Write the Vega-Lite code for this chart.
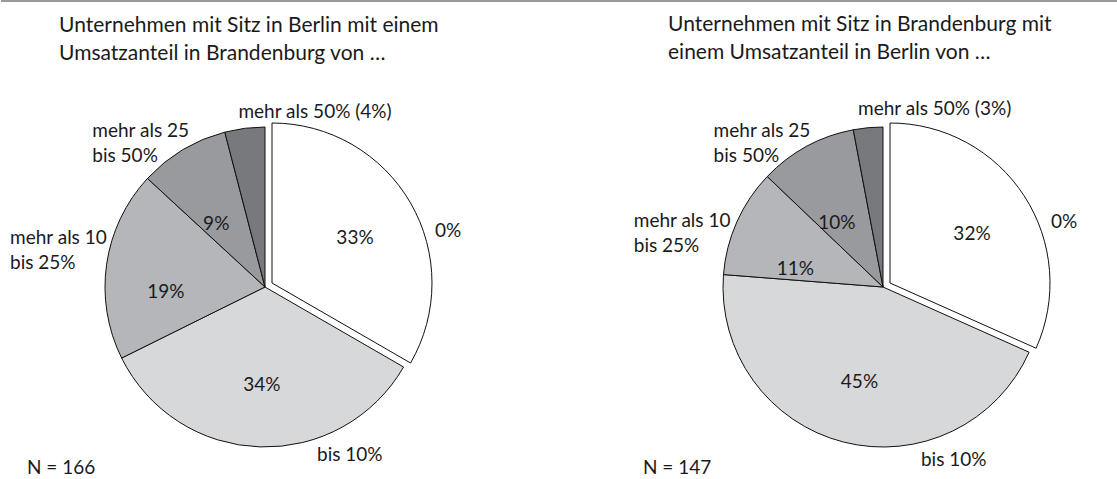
{
  "$schema": "https://vega.github.io/schema/vega-lite/v6.json",
  "padding": 0,
  "background": "white",
  "bounds": "flush",
  "spacing": 125,
  "config": {
    "view": {"stroke": null},
    "text": {"font": "Lato", "fontSize": 19, "color": "#1a1a1a", "baseline": "middle", "lineHeight": 25, "lineBreak": "\n"},
    "title": {"font": "Lato", "fontSize": 21, "fontWeight": "normal", "color": "#1a1a1a", "anchor": "start", "frame": "group", "lineHeight": 28},
    "arc": {"stroke": "#111111", "strokeWidth": 1}
  },
  "vconcat": [
    {
      "width": 1117,
      "height": 2,
      "data": {"values": [{}]},
      "mark": {"type": "rule", "color": "#999999", "strokeWidth": 2},
      "encoding": {"y": {"datum": 1, "type": "quantitative", "scale": {"domain": [0, 2]}, "axis": null}}
    },
    {
      "hconcat": [
        {
          "width": 528,
          "height": 320,
          "title": {"text": ["Unternehmen mit Sitz in Berlin mit einem", "Umsatzanteil in Brandenburg von …"], "dx": 58, "offset": 39},
          "data": {"values": [
            {"order": 1, "cat": "0%", "label": "0%", "share": 33, "pct": "33%", "n": "N = 166"},
            {"order": 2, "cat": "bis 10%", "label": "bis 10%", "share": 34, "pct": "34%", "n": "N = 166"},
            {"order": 3, "cat": "mehr als 10 bis 25%", "label": "mehr als 10\nbis 25%", "share": 19, "pct": "19%", "n": "N = 166"},
            {"order": 4, "cat": "mehr als 25 bis 50%", "label": "mehr als 25\nbis 50%", "share": 9, "pct": "9%", "n": "N = 166"},
            {"order": 5, "cat": "mehr als 50%", "label": "mehr als 50% (4%)", "share": 4, "pct": "4%", "n": "N = 166"}
          ]},
          "transform": [{"stack": "share", "groupby": [], "sort": [{"field": "order", "order": "ascending"}], "as": ["v0", "v1"], "offset": "normalize"}],
          "layer": [
            {
              "transform": [{"filter": "datum.order != 1"}],
              "mark": {"type": "arc"},
              "encoding": {
                "theta": {"field": "v0", "type": "quantitative", "stack": null, "scale": {"domain": [0, 1]}},
                "theta2": {"field": "v1"},
                "color": {"field": "cat", "type": "nominal", "legend": null, "scale": {"domain": ["0%", "bis 10%", "mehr als 10 bis 25%", "mehr als 25 bis 50%", "mehr als 50%"], "range": ["#ffffff", "#d7d8da", "#b4b6b9", "#989a9e", "#77797d"]}}
              }
            },
            {
              "transform": [{"filter": "datum.order == 1"}],
              "mark": {"type": "arc", "xOffset": 7, "yOffset": -4},
              "encoding": {
                "theta": {"field": "v0", "type": "quantitative", "stack": null},
                "theta2": {"field": "v1"},
                "color": {"field": "cat", "type": "nominal", "legend": null}
              }
            },
            {"transform": [{"filter": "datum.order == 1"}], "mark": {"type": "text", "radius": 102, "dx": 90, "dy": 53}, "encoding": {"theta": {"field": "v0", "type": "quantitative"}, "text": {"field": "pct", "type": "nominal"}}},
            {"transform": [{"filter": "datum.order == 2"}], "mark": {"type": "text", "radius": 98, "dx": -88, "dy": 49}, "encoding": {"theta": {"field": "v0", "type": "quantitative"}, "text": {"field": "pct", "type": "nominal"}}},
            {"transform": [{"filter": "datum.order == 3"}], "mark": {"type": "text", "radius": 95, "dx": -14, "dy": -37}, "encoding": {"theta": {"field": "v0", "type": "quantitative"}, "text": {"field": "pct", "type": "nominal"}}},
            {"transform": [{"filter": "datum.order == 4"}], "mark": {"type": "text", "radius": 80, "dx": 10, "dy": -9}, "encoding": {"theta": {"field": "v0", "type": "quantitative"}, "text": {"field": "pct", "type": "nominal"}}},
            {"transform": [{"filter": "datum.order == 1"}], "mark": {"type": "text", "radius": 191, "dx": 183, "dy": 135}, "encoding": {"theta": {"field": "v0", "type": "quantitative"}, "text": {"field": "label", "type": "nominal"}}},
            {"transform": [{"filter": "datum.order == 2"}], "mark": {"type": "text", "radius": 188, "dx": -78, "dy": 74}, "encoding": {"theta": {"field": "v0", "type": "quantitative"}, "text": {"field": "label", "type": "nominal"}}},
            {"transform": [{"filter": "datum.order == 3"}], "mark": {"type": "text", "radius": 260, "dx": -22, "dy": -164, "align": "left"}, "encoding": {"theta": {"field": "v0", "type": "quantitative"}, "text": {"field": "label", "type": "nominal"}}},
            {"transform": [{"filter": "datum.order == 4"}], "mark": {"type": "text", "radius": 231, "dx": -3, "dy": 1, "align": "left"}, "encoding": {"theta": {"field": "v0", "type": "quantitative"}, "text": {"field": "label", "type": "nominal"}}},
            {"transform": [{"filter": "datum.order == 5"}], "mark": {"type": "text", "radius": 183, "dx": 96, "dy": 2}, "encoding": {"theta": {"field": "v0", "type": "quantitative"}, "text": {"field": "label", "type": "nominal"}}},
            {"transform": [{"filter": "datum.order == 1"}], "mark": {"type": "text", "radius": 0, "dx": -238, "dy": 181, "align": "left"}, "encoding": {"theta": {"field": "v0", "type": "quantitative"}, "text": {"field": "n", "type": "nominal"}}}
          ]
        },
        {
          "width": 470,
          "height": 320,
          "title": {"text": ["Unternehmen mit Sitz in Brandenburg mit", "einem Umsatzanteil in Berlin von …"], "dx": 20, "offset": 37},
          "data": {"values": [
            {"order": 1, "cat": "0%", "label": "0%", "share": 32, "pct": "32%", "n": "N = 147"},
            {"order": 2, "cat": "bis 10%", "label": "bis 10%", "share": 45, "pct": "45%", "n": "N = 147"},
            {"order": 3, "cat": "mehr als 10 bis 25%", "label": "mehr als 10\nbis 25%", "share": 11, "pct": "11%", "n": "N = 147"},
            {"order": 4, "cat": "mehr als 25 bis 50%", "label": "mehr als 25\nbis 50%", "share": 10, "pct": "10%", "n": "N = 147"},
            {"order": 5, "cat": "mehr als 50%", "label": "mehr als 50% (3%)", "share": 3, "pct": "3%", "n": "N = 147"}
          ]},
          "transform": [{"stack": "share", "groupby": [], "sort": [{"field": "order", "order": "ascending"}], "as": ["v0", "v1"], "offset": "normalize"}],
          "layer": [
            {
              "transform": [{"filter": "datum.order != 1"}],
              "mark": {"type": "arc"},
              "encoding": {
                "theta": {"field": "v0", "type": "quantitative", "stack": null, "scale": {"domain": [0, 1]}},
                "theta2": {"field": "v1"},
                "color": {"field": "cat", "type": "nominal", "legend": null, "scale": {"domain": ["0%", "bis 10%", "mehr als 10 bis 25%", "mehr als 25 bis 50%", "mehr als 50%"], "range": ["#ffffff", "#d7d8da", "#b4b6b9", "#989a9e", "#77797d"]}}
              }
            },
            {
              "transform": [{"filter": "datum.order == 1"}],
              "mark": {"type": "arc", "xOffset": 7, "yOffset": -4},
              "encoding": {
                "theta": {"field": "v0", "type": "quantitative", "stack": null},
                "theta2": {"field": "v1"},
                "color": {"field": "cat", "type": "nominal", "legend": null}
              }
            },
            {"transform": [{"filter": "datum.order == 1"}], "mark": {"type": "text", "radius": 104, "dx": 89, "dy": 51}, "encoding": {"theta": {"field": "v0", "type": "quantitative"}, "text": {"field": "pct", "type": "nominal"}}},
            {"transform": [{"filter": "datum.order == 2"}], "mark": {"type": "text", "radius": 98, "dx": -113, "dy": 55}, "encoding": {"theta": {"field": "v0", "type": "quantitative"}, "text": {"field": "pct", "type": "nominal"}}},
            {"transform": [{"filter": "datum.order == 3"}], "mark": {"type": "text", "radius": 90, "dx": 2, "dy": -11}, "encoding": {"theta": {"field": "v0", "type": "quantitative"}, "text": {"field": "pct", "type": "nominal"}}},
            {"transform": [{"filter": "datum.order == 4"}], "mark": {"type": "text", "radius": 79, "dx": 11, "dy": -9}, "encoding": {"theta": {"field": "v0", "type": "quantitative"}, "text": {"field": "pct", "type": "nominal"}}},
            {"transform": [{"filter": "datum.order == 1"}], "mark": {"type": "text", "radius": 192, "dx": 181, "dy": 127}, "encoding": {"theta": {"field": "v0", "type": "quantitative"}, "text": {"field": "label", "type": "nominal"}}},
            {"transform": [{"filter": "datum.order == 2"}], "mark": {"type": "text", "radius": 187, "dx": -100, "dy": 97}, "encoding": {"theta": {"field": "v0", "type": "quantitative"}, "text": {"field": "label", "type": "nominal"}}},
            {"transform": [{"filter": "datum.order == 3"}], "mark": {"type": "text", "radius": 259, "dx": 9, "dy": -46, "align": "left"}, "encoding": {"theta": {"field": "v0", "type": "quantitative"}, "text": {"field": "label", "type": "nominal"}}},
            {"transform": [{"filter": "datum.order == 4"}], "mark": {"type": "text", "radius": 230, "dx": -3, "dy": 3, "align": "left"}, "encoding": {"theta": {"field": "v0", "type": "quantitative"}, "text": {"field": "label", "type": "nominal"}}},
            {"transform": [{"filter": "datum.order == 5"}], "mark": {"type": "text", "radius": 185, "dx": 86, "dy": 4}, "encoding": {"theta": {"field": "v0", "type": "quantitative"}, "text": {"field": "label", "type": "nominal"}}},
            {"transform": [{"filter": "datum.order == 1"}], "mark": {"type": "text", "radius": 0, "dx": -240, "dy": 181, "align": "left"}, "encoding": {"theta": {"field": "v0", "type": "quantitative"}, "text": {"field": "n", "type": "nominal"}}}
          ]
        }
      ],
      "spacing": 119,
      "bounds": "flush",
      "resolve": {"scale": {"theta": "independent", "color": "independent"}}
    }
  ]
}
